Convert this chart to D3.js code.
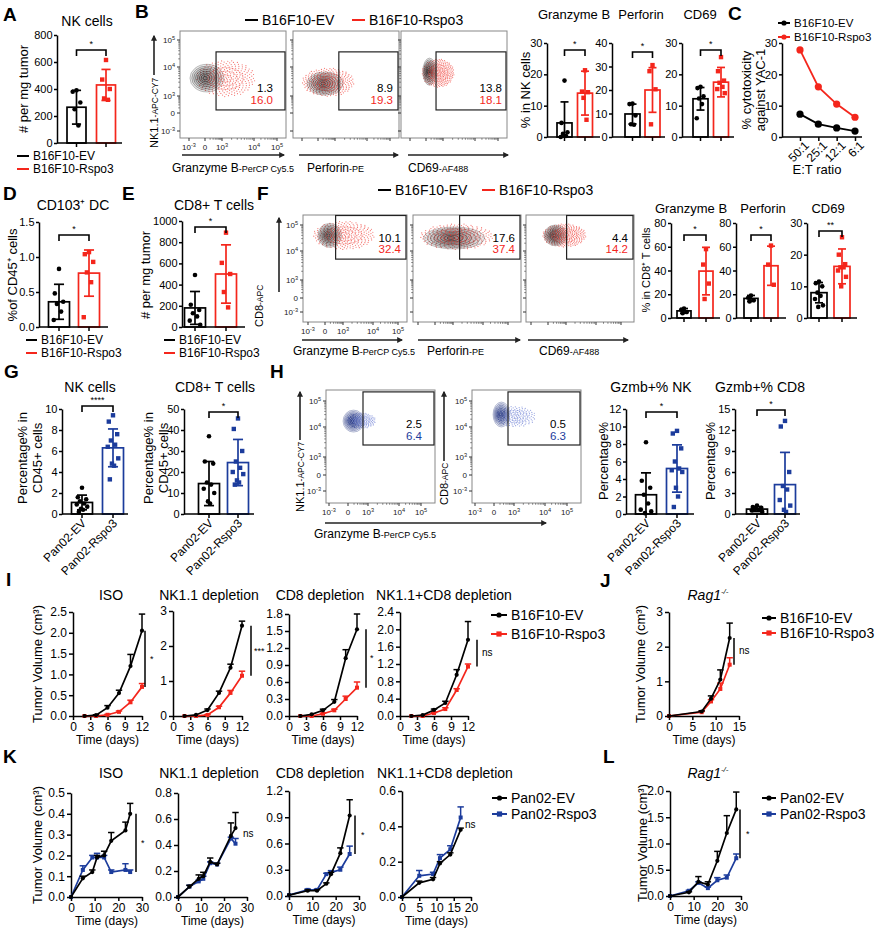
<!DOCTYPE html>
<html><head><meta charset="utf-8">
<script src="https://cdn.jsdelivr.net/npm/d3@7"></script>
<style>html,body{margin:0;padding:0;background:#fff}svg{display:block}</style>
</head><body>
<script>
// ================= DATA =================
const grpB16 = ["B16F10-EV", "B16F10-Rspo3"];
const grpPan = ["Pan02-EV", "Pan02-Rspo3"];

// A
const aMean = [265, 430], aSD = [125, 115];
const aDots = [[390, 380, 300, 250, 130], [615, 470, 400, 330, 320]];
// B bar charts (% in NK cells)
const bGzmbMean = [4.5, 14], bGzmbSD = [6.7, 7];
const bGzmbDots = [[18, 4.5, 1.5, 1, 0.3, 0], [21.3, 14.5, 14.3, 12.5, 5.5]];
const bPrfMean = [9.8, 20], bPrfSD = [4.2, 9.5];
const bPrfDots = [[14.2, 14, 9.2, 5.4, 5.2], [30.6, 28, 20.3, 5.4]];
const bCd69Mean = [12.2, 17.5], bCd69SD = [3.6, 4.7];
const bCd69Dots = [[16, 15.6, 13, 12.3, 10.5, 6], [25.5, 21, 18, 17.3, 16, 15.3, 14]];
// B flow gates
const bGateNums = [["1.3", "16.0"], ["8.9", "19.3"], ["13.8", "18.1"]];
const flowB_gray = [[0.06, 1.62, 1.0, 0.48], [0.28, 1.43, 0.97, 0.4], [0.2, 1.85, 0.4, 0.48]];
const flowB_red = [[0.75, 1.6, 1.3, 0.65], [0.3, 1.47, 1.3, 0.5], [0.55, 1.8, 0.8, 0.5]];
const flowB_gateX = [0.65, 1.12, 0.59];
// C
const etRatio = ["50:1", "25:1", "12:1", "6:1"];
const cytoEV = [7.3, 4.1, 2.9, 1.9];
const cytoRspo3 = [27.8, 16.0, 10.5, 6.3];
// D
const dMean = [0.36, 0.77], dSD = [0.25, 0.33];
const dDots = [[0.83, 0.48, 0.36, 0.33, 0.22, 0.1], [1.07, 1.04, 0.93, 0.78, 0.64, 0.14]];
// E
const eMean = [180, 500], eSD = [155, 275];
const eDots = [[490, 210, 160, 130, 100, 60, 20], [890, 605, 500, 330, 185]];
// F flow
const fGateNums = [["10.1", "32.4"], ["17.6", "37.4"], ["4.4", "14.2"]];
const flowF_gray = [[0.25, 2.6, 0.67, 0.46], [0.7, 2.5, 1.36, 0.42], [0.4, 2.6, 0.63, 0.4]];
const flowF_red = [[0.68, 2.6, 1.38, 0.55], [0.76, 2.55, 1.64, 0.5], [0.67, 2.6, 1.0, 0.45]];
const flowF_gateX = [0.59, 1.22, 1.02];
// F bars (% in CD8+ T cells)
const fGzmbMean = [6, 39.5], fGzmbSD = [2, 20];
const fGzmbDots = [[8, 7, 5, 4], [58, 45, 29, 16]];
const fPrfMean = [16.5, 44], fPrfSD = [2.5, 16.5];
const fPrfDots = [[19, 17, 15, 14], [61, 45, 28]];
const fCd69Mean = [8, 16.3], fCd69SD = [3.2, 5.5];
const fCd69Dots = [[11.5, 11, 10, 8, 7, 6, 4, 3.5], [25.5, 20, 17, 16, 16, 15, 13, 10]];
// G
const gNkMean = [1.1, 6.3], gNkSD = [0.7, 1.8];
const gNkDots = [[2.5, 1.6, 1.4, 1.2, 1.0, 0.9, 0.7, 0.5, 0.4, 0.2], [9.4, 8.8, 7.6, 7.0, 6.6, 6.4, 5.3, 4.8, 4.6, 3.3]];
const gCd8Mean = [14.5, 24.5], gCd8SD = [10.5, 11];
const gCd8Dots = [[37, 25, 24, 15, 14, 12, 10, 6, 5], [45.5, 40.5, 30, 25, 22, 20, 19, 16, 15, 14]];
// H flow
const hGateNums = [["2.5", "6.4"], ["0.5", "6.3"]];
const flowH_dark = [[0.27, 2.24, 0.53, 0.41], [0.37, 2.48, 0.42, 0.48]];
const flowH_light = [[0.6, 2.25, 0.65, 0.3], [0.9, 2.4, 0.8, 0.4]];
const flowH_gateX = [0.75, 0.7];
// H bars
const hNkMean = [2.2, 5.2], hNkSD = [2.5, 2.7];
const hNkDots = [[8.2, 3.8, 3.0, 2.2, 1.2, 0.5, 0.3, 0.1], [9.5, 9.2, 7.5, 6.0, 5.2, 5.0, 4.8, 3.0, 2.0, 0.8]];
const hCd8Mean = [0.7, 4.2], hCd8SD = [0.35, 4.6];
const hCd8Dots = [[1.2, 1.0, 0.9, 0.7, 0.6, 0.5, 0.3], [13.3, 12.5, 6.0, 4.0, 3.5, 2.0, 1.2, 0.6, 0.3]];
// I (B16F10 growth)
const iDays = [2, 4, 6, 8, 10, 12];
const iIsoEV = [0, 0.02, 0.2, 0.55, 1.2, 2.05], iIsoEVe = [0, 0.01, 0.05, 0.07, 0.28, 0.4];
const iIsoR = [0, 0, 0.03, 0.1, 0.33, 0.7], iIsoRe = [0, 0, 0.01, 0.02, 0.05, 0.08];
const iNkEV = [0, 0.03, 0.17, 0.66, 1.38, 2.58], iNkEVe = [0, 0, 0.03, 0.05, 0.1, 0.13];
const iNkR = [0, 0, 0.03, 0.25, 0.66, 1.15], iNkRe = [0, 0, 0.01, 0.03, 0.07, 0.13];
const iCd8EV = [0, 0.03, 0.1, 0.25, 1.02, 1.53], iCd8EVe = [0, 0, 0.02, 0.04, 0.15, 0.27];
const iCd8R = [0, 0, 0.04, 0.1, 0.3, 0.5], iCd8Re = [0, 0, 0.01, 0.02, 0.05, 0.1];
const iBothEV = [0, 0.02, 0.14, 0.3, 0.95, 1.76], iBothEVe = [0, 0, 0.02, 0.04, 0.12, 0.42];
const iBothR = [0, 0, 0.07, 0.16, 0.6, 1.14], iBothRe = [0, 0, 0.01, 0.03, 0.03, 0.06];
// J
const jDays = [0, 7, 9, 11, 13];
const jEV = [0, 0.13, 0.5, 1.05, 2.25], jEVe = [0, 0.02, 0.08, 0.28, 0.43];
const jR = [0, 0.11, 0.42, 0.78, 1.48], jRe = [0, 0.02, 0.05, 0.17, 0.2];
// K (Pan02 growth)
const kIsoDays = [0, 5, 9, 11, 14, 17, 23, 25];
const kIsoEV = [0, 0.09, 0.12, 0.19, 0.2, 0.27, 0.32, 0.4], kIsoEVe = [0, 0.01, 0.01, 0.01, 0.02, 0.04, 0.04, 0.05];
const kIsoR = [0, 0.13, 0.19, 0.19, 0.19, 0.12, 0.13, 0.12], kIsoRe = [0, 0.02, 0.01, 0.02, 0.01, 0.01, 0.03, 0.01];
const kNkDays = [0, 5, 9, 11, 14, 17, 23, 25];
const kNkEV = [0, 0.08, 0.14, 0.16, 0.27, 0.25, 0.47, 0.53], kNkEVe = [0, 0.01, 0.03, 0.03, 0.03, 0.01, 0.1, 0.12];
const kNkR = [0, 0.08, 0.12, 0.14, 0.26, 0.25, 0.45, 0.41], kNkRe = [0, 0.01, 0.01, 0.02, 0.01, 0.01, 0.01, 0.04];
const kCd8Days = [0, 8, 12, 16, 18, 22, 26];
const kCd8EV = [0.01, 0.06, 0.06, 0.14, 0.25, 0.49, 0.92], kCd8EVe = [0, 0.01, 0.01, 0.01, 0.02, 0.06, 0.18];
const kCd8R = [0.01, 0.07, 0.07, 0.25, 0.27, 0.3, 0.48], kCd8Re = [0, 0.01, 0.01, 0.01, 0.02, 0.03, 0.09];
const kBothDays = [0, 5, 9, 11, 14, 17];
const kBothEV = [0, 0.08, 0.1, 0.19, 0.24, 0.38], kBothEVe = [0, 0.01, 0.01, 0.01, 0.01, 0.01];
const kBothR = [0, 0.12, 0.13, 0.22, 0.27, 0.45], kBothRe = [0, 0.03, 0.01, 0.02, 0.02, 0.06];
// L
const lDays = [0, 8, 12, 16, 20, 24, 28];
const lEV = [0, 0.07, 0.27, 0.22, 0.67, 1.2, 1.65], lEVe = [0, 0.01, 0.1, 0.05, 0.18, 0.33, 0.33];
const lR = [0, 0.1, 0.25, 0.15, 0.3, 0.35, 0.72], lRe = [0, 0.01, 0.02, 0.02, 0.05, 0.05, 0.08];

// ================= DRAWING =================
const FONT = "'Liberation Sans', Arial, Helvetica, sans-serif";
const BLK = "#000", RED = "#f4261c", BLU = "#1c3c9c";
const svg = d3.select("body").append("svg").attr("width", 880).attr("height", 929)
  .style("font-family", FONT);
const defs = svg.append("defs");
defs.append("marker").attr("id", "arr").attr("viewBox", "0 0 10 10").attr("refX", 8).attr("refY", 5)
  .attr("markerWidth", 6).attr("markerHeight", 6).attr("markerUnits", "userSpaceOnUse").attr("orient", "auto")
  .append("path").attr("d", "M0,0 L10,5 L0,10 z").attr("fill", "#222");

function txt(x, y, s, o = {}) {
  const t = svg.append("text").attr("x", x).attr("y", y).attr("font-size", o.fs || 12)
    .attr("text-anchor", o.anchor || "start").attr("fill", o.fill || "#000");
  if (o.bold) t.attr("font-weight", "bold");
  if (o.italic) t.attr("font-style", "italic");
  if (o.rot) t.attr("transform", `rotate(${o.rot},${x},${y})`);
  t.text(s);
  return t;
}
function mixed(x, y, parts, o = {}) {
  const t = svg.append("text").attr("x", x).attr("y", y).attr("text-anchor", o.anchor || "start").attr("fill", o.fill || "#000");
  if (o.rot) t.attr("transform", `rotate(${o.rot},${x},${y})`);
  parts.forEach(p => {
    const ts = t.append("tspan").attr("font-size", p[1]).text(p[0]);
    if (p[2]) ts.attr("dy", p[2]);
    if (p[3]) ts.attr("font-style", p[3]);
  });
  return t;
}
function ylab(xc, yc, lines, fs) {
  lines.forEach((s, i) => {
    const x = xc[i] + fs * 0.36;
    txt(x, yc, s, { fs: fs, anchor: "middle", rot: -90 });
  });
}
function styleAxis(g, fs) {
  g.attr("font-family", FONT).attr("font-size", fs);
  g.select(".domain").attr("stroke", "#000").attr("stroke-width", 1.5);
  g.selectAll(".tick line").attr("stroke", "#000").attr("stroke-width", 1.5);
  g.selectAll(".tick text").attr("fill", "#000");
}
function legendLine(x0, x1, y, color, label, fs, marker) {
  svg.append("line").attr("x1", x0).attr("x2", x1).attr("y1", y).attr("y2", y).attr("stroke", color).attr("stroke-width", 2);
  if (marker === "c") svg.append("circle").attr("cx", (x0 + x1) / 2).attr("cy", y).attr("r", 2.6).attr("fill", color);
  if (marker === "s") svg.append("rect").attr("x", (x0 + x1) / 2 - 2.6).attr("y", y - 2.6).attr("width", 5.2).attr("height", 5.2).attr("fill", color);
  txt(x1 + 4, y + fs * 0.36, label, { fs: fs });
}

// ---------- bar chart ----------
function barChart(o) {
  const g = svg.append("g");
  const y = d3.scaleLinear().domain([0, o.max]).range([o.yBot, o.yTop]);
  const step = o.c[1] - o.c[0], p = 1 - o.bw / step;
  const x = d3.scaleBand().domain(o.groups).range([o.c[0] - step / 2, o.c[1] + step / 2]).paddingInner(p).paddingOuter(p / 2);
  const bw = x.bandwidth();
  o.groups.forEach((gr, i) => {
    const col = o.colors[i], cx = x(gr) + bw / 2;
    g.append("rect").attr("x", x(gr)).attr("y", y(o.means[i])).attr("width", bw)
      .attr("height", o.yBot - y(o.means[i])).attr("fill", "#fff").attr("stroke", col).attr("stroke-width", 1.7);
    const vals = o.dots[i].slice().sort((a, b) => b - a);
    const offs = [0, -4, 4, -2, 2, -5, 5, -1, 1, -3, 3];
    vals.forEach((v, j) => {
      const dx = offs[j % offs.length] * bw / 20;
      if (i === 1) g.append("rect").attr("x", cx + dx - 2.2).attr("y", y(v) - 2.2).attr("width", 4.4).attr("height", 4.4).attr("fill", col);
      else g.append("circle").attr("cx", cx + dx).attr("cy", y(v)).attr("r", 2.3).attr("fill", col);
    });
    const lo = Math.max(0, o.means[i] - o.sds[i]), hi = o.means[i] + o.sds[i];
    const cw = Math.max(4, bw * 0.24);
    g.append("line").attr("x1", cx).attr("x2", cx).attr("y1", y(lo)).attr("y2", y(hi)).attr("stroke", col).attr("stroke-width", 1.7);
    g.append("line").attr("x1", cx - cw).attr("x2", cx + cw).attr("y1", y(hi)).attr("y2", y(hi)).attr("stroke", col).attr("stroke-width", 1.7);
    if (lo > 0) g.append("line").attr("x1", cx - cw).attr("x2", cx + cw).attr("y1", y(lo)).attr("y2", y(lo)).attr("stroke", col).attr("stroke-width", 1.7);
  });
  const ya = g.append("g").attr("transform", `translate(${o.axisX},0)`)
    .call(d3.axisLeft(y).tickValues(o.ticks).tickFormat(o.fmt || d3.format("d")).tickSize(3).tickSizeOuter(0).tickPadding(1.5));
  styleAxis(ya, o.fs || 11);
  const xa = g.append("g").attr("transform", `translate(0,${o.yBot})`)
    .call(d3.axisBottom(x).tickSize(4).tickSizeOuter(0).tickFormat(""));
  styleAxis(xa, 11);
  xa.select(".domain").attr("d", `M${o.axisX},0H${o.xEnd}`);
  if (o.rotLabels) {
    o.groups.forEach(gr => {
      const cx = x(gr) + bw / 2;
      txt(cx + 5, o.yBot + 10, gr, { fs: 12, anchor: "end", rot: -45 });
    });
  }
  if (o.sig) {
    const c1 = x(o.groups[0]) + bw / 2, c2 = x(o.groups[1]) + bw / 2;
    g.append("path").attr("d", `M${c1},${o.sig[1] + 6}V${o.sig[1]}H${c2}V${o.sig[1] + 6}`)
      .attr("fill", "none").attr("stroke", "#000").attr("stroke-width", 1.6);
    txt((c1 + c2) / 2, o.sig[1] - 3, o.sig[0], { fs: 9, anchor: "middle" });
  }
  if (o.title) txt(o.title[1], o.title[2], o.title[0], { fs: o.tfs || 14, anchor: "middle" });
}

// ---------- line chart ----------
function lineChart(o) {
  const g = svg.append("g");
  const x = d3.scaleLinear().domain(o.xDom).range([o.x0, o.x1]);
  const y = d3.scaleLinear().domain(o.yDom).range([o.yBot, o.yTop]);
  const ya = g.append("g").attr("transform", `translate(${o.x0},0)`)
    .call(d3.axisLeft(y).tickValues(o.yTicks).tickFormat(o.yFmt).tickSize(4).tickSizeOuter(0).tickPadding(2));
  styleAxis(ya, 12);
  const xa = g.append("g").attr("transform", `translate(0,${o.yBot})`)
    .call(d3.axisBottom(x).tickValues(o.xTicks).tickFormat(d3.format("d")).tickSize(4).tickSizeOuter(0).tickPadding(2));
  styleAxis(xa, 12);
  txt((o.x0 + o.x1) / 2, o.yBot + 28, "Time (days)", { fs: 12, anchor: "middle" });
  o.series.forEach(s => {
    const pts = s.x.map((d, i) => [x(d), y(s.y[i])]);
    g.append("path").attr("d", d3.line()(pts)).attr("fill", "none").attr("stroke", s.color).attr("stroke-width", 1.7);
    s.x.forEach((d, i) => {
      if (s.e[i] > 0) {
        const yt = y(s.y[i] + s.e[i]);
        g.append("line").attr("x1", x(d)).attr("x2", x(d)).attr("y1", y(s.y[i])).attr("y2", yt).attr("stroke", s.color).attr("stroke-width", 1.5);
        g.append("line").attr("x1", x(d) - 3.2).attr("x2", x(d) + 3.2).attr("y1", yt).attr("y2", yt).attr("stroke", s.color).attr("stroke-width", 1.5);
      }
      if (s.shape === "s") g.append("rect").attr("x", x(d) - 2).attr("y", y(s.y[i]) - 2).attr("width", 4).attr("height", 4).attr("fill", s.color);
      else g.append("circle").attr("cx", x(d)).attr("cy", y(s.y[i])).attr("r", 2.1).attr("fill", s.color);
    });
  });
  if (o.sig) {
    const a = o.series[1], b = o.series[0];
    const y1 = y(a.y[a.y.length - 1]), y2 = y(b.y[b.y.length - 1]);
    if (o.sig.line) g.append("line").attr("x1", o.sig.x).attr("x2", o.sig.x).attr("y1", y1).attr("y2", y2).attr("stroke", "#000").attr("stroke-width", 1.5);
    txt(o.sig.tx, o.sig.ty != null ? o.sig.ty : (y1 + y2) / 2 + 3, o.sig.text, { fs: o.sig.text === "ns" ? 10 : 9 });
  }
  if (o.title) txt(o.title[1], o.title[2], o.title[0], { fs: 14, anchor: "middle" });
}

// ---------- flow plot ----------
let clipN = 0;
function supLabel(x, y, base, sup, fs, anchor) {
  const t = svg.append("text").attr("x", x).attr("y", y).attr("font-size", fs).attr("text-anchor", anchor).attr("fill", "#222");
  t.append("tspan").text(base);
  if (sup) t.append("tspan").attr("font-size", fs * 0.7).attr("dy", -fs * 0.4).text(sup);
}
function flowPlot(o) {
  const g = svg.append("g");
  const xs = d3.scaleLinear().domain([-1, 0, 1, 2, 3]).range(o.xt.map(v => o.x + v));
  const ys = d3.scaleLinear().domain([-1, 0, 1, 2, 3]).range(o.yt.map(v => o.y + v));
  const id = "fc" + (clipN++);
  defs.append("clipPath").attr("id", id).append("rect").attr("x", o.x).attr("y", o.y).attr("width", o.w).attr("height", o.h);
  const inner = g.append("g").attr("clip-path", `url(#${id})`);
  const ell = c => {
    const x0 = xs(c[0] - c[2]), x1 = xs(c[0] + c[2]), y0 = ys(c[1] + c[3]), y1 = ys(c[1] - c[3]);
    return { cx: (x0 + x1) / 2, cy: (y0 + y1) / 2, rx: (x1 - x0) / 2, ry: (y1 - y0) / 2 };
  };
  const S = ell(o.cloud);
  const n = o.nDots || 260;
  const dotLayer = (from, to) => {
    for (let i = from; i < to; i++) {
      const r = Math.pow((i + 0.5) / n, 0.55), a = i * 2.39996;
      inner.append("circle").attr("cx", S.cx + r * Math.cos(a) * S.rx).attr("cy", S.cy + r * Math.sin(a) * S.ry)
        .attr("r", 0.6).attr("fill", o.cloudColor).attr("fill-opacity", 0.65);
    }
  };
  dotLayer(Math.floor(n * 0.35), n);
  const E = ell(o.main);
  const rings = 8;
  for (let k = rings; k >= 1; k--) {
    const f = k / rings;
    inner.append("ellipse").attr("cx", E.cx - (1 - f) * E.rx * 0.12).attr("cy", E.cy).attr("rx", E.rx * f).attr("ry", E.ry * f)
      .attr("fill", o.mainColor).attr("fill-opacity", 0.09)
      .attr("stroke", o.mainColor).attr("stroke-opacity", 0.35 + 0.55 * (1 - f)).attr("stroke-width", 0.8);
  }
  dotLayer(0, Math.floor(n * 0.35));
  for (let k = 1; k <= 3; k++) {
    const f = k / 4;
    inner.append("ellipse").attr("cx", S.cx).attr("cy", S.cy).attr("rx", S.rx * f * 0.8).attr("ry", S.ry * f * 0.8)
      .attr("fill", "none").attr("stroke", o.cloudColor).attr("stroke-opacity", 0.45).attr("stroke-width", 0.6);
  }
  g.append("rect").attr("x", o.x).attr("y", o.y).attr("width", o.w).attr("height", o.h)
    .attr("fill", "none").attr("stroke", "#888").attr("stroke-width", 1);
  [-1, 0, 1, 2, 3].forEach(d => {
    g.append("line").attr("x1", o.x - 3).attr("x2", o.x).attr("y1", ys(d)).attr("y2", ys(d)).attr("stroke", "#333").attr("stroke-width", 1);
    g.append("line").attr("x1", xs(d)).attr("x2", xs(d)).attr("y1", o.y + o.h).attr("y2", o.y + o.h + 3).attr("stroke", "#333").attr("stroke-width", 1);
  });
  [0, 1, 2].forEach(d => {
    d3.range(2, 10).forEach(k => {
      const v = d + Math.log10(k);
      g.append("line").attr("x1", o.x - 1.8).attr("x2", o.x).attr("y1", ys(v)).attr("y2", ys(v)).attr("stroke", "#555").attr("stroke-width", 0.7);
      g.append("line").attr("x1", xs(v)).attr("x2", xs(v)).attr("y1", o.y + o.h).attr("y2", o.y + o.h + 1.8).attr("stroke", "#555").attr("stroke-width", 0.7);
    });
  });
  const lab = [[-1, "10", "-3"], [0, "0", ""], [1, "10", "3"], [2, "10", "4"], [3, "10", "5"]];
  if (o.yLabels) lab.forEach(l => supLabel(o.x - 5, ys(l[0]) + 3, l[1], l[2], 8, "end"));
  if (o.xLabels) lab.forEach(l => supLabel(xs(l[0]), o.y + o.h + 12, l[1], l[2], 8, "middle"));
  const gx0 = xs(o.gate[0]), gyB = ys(o.gate[1]), gyT = Math.max(o.y + 0.5, ys(o.gate[2])), gxR = o.x + o.w - 1;
  g.append("rect").attr("x", gx0).attr("y", gyT).attr("width", gxR - gx0).attr("height", gyB - gyT)
    .attr("fill", "none").attr("stroke", "#222").attr("stroke-width", 1.2);
  txt(o.numX, o.numY[0], o.nums[0], { fs: 11.5, anchor: "end" });
  txt(o.numX, o.numY[1], o.nums[1], { fs: 11.5, anchor: "end", fill: o.numColor });
}
function arrow(x1, y1, x2, y2) {
  svg.append("line").attr("x1", x1).attr("y1", y1).attr("x2", x2).attr("y2", y2)
    .attr("stroke", "#222").attr("stroke-width", 1.6).attr("marker-end", "url(#arr)");
}

// ================= PANEL LABELS =================
[["A", 3, 21], ["B", 135, 18], ["C", 728, 20], ["D", 3, 200], ["E", 122, 200], ["F", 257, 200],
 ["G", 4, 378], ["H", 270, 378], ["I", 6, 586], ["J", 600, 587], ["K", 3, 763], ["L", 603, 763]]
  .forEach(l => txt(l[1], l[2], l[0], { fs: 19, bold: true }));

// ================= A =================
barChart({ groups: grpB16, means: aMean, sds: aSD, dots: aDots, colors: [BLK, RED], axisX: 57, xEnd: 122,
  yTop: 35, yBot: 143, max: 800, ticks: [0, 200, 400, 600, 800], c: [76.5, 106], bw: 19,
  sig: ["*", 50], title: ["NK cells", 87, 26] });
ylab([23], 89, ["# per mg tumor"], 13);
legendLine(17, 29, 156, BLK, "B16F10-EV", 12);
legendLine(17, 29, 169, RED, "B16F10-Rspo3", 12);

// ================= B =================
legendLine(245, 258, 20, BLK, "B16F10-EV", 14);
legendLine(352, 365, 20, RED, "B16F10-Rspo3", 14);
const bX = [180, 293, 401];
bX.forEach((x0, i) => {
  flowPlot({ x: x0, y: 31, w: 106, h: 107, xt: [9, 25, 42, 74, 97], yt: [100, 82, 65, 36, 9],
    main: flowB_gray[i], mainColor: "#222", cloud: flowB_red[i], cloudColor: "#ee2a22",
    gate: [flowB_gateX[i], 0.18, 2.56], nums: bGateNums[i], numX: x0 + 106 - [13, 6, 5][i], numY: [92, 104], numColor: RED,
    yLabels: i === 0, xLabels: i === 0 });
});
arrow(154, 75, 154, 36);
mixed(158, 148, [["NK1.1", 11], ["-APC-CY7", 8.5]], { rot: -90 });
arrow(182, 155, 284, 155); arrow(299, 155, 398, 155); arrow(408, 155, 508, 155);
mixed(172, 172, [["Granzyme B", 12], ["-PerCP Cy5.5", 9]]);
mixed(307, 172, [["Perforin", 12], ["-PE", 9]]);
mixed(408, 172, [["CD69", 12], ["-AF488", 9]]);

barChart({ groups: grpB16, means: bGzmbMean, sds: bGzmbSD, dots: bGzmbDots, colors: [BLK, RED], axisX: 547, xEnd: 600,
  yTop: 43, yBot: 137, max: 30, ticks: [0, 10, 20, 30], c: [564.5, 585], bw: 15, sig: ["*", 50], title: ["Granzyme B", 574, 19], tfs: 13 });
barChart({ groups: grpB16, means: bPrfMean, sds: bPrfSD, dots: bPrfDots, colors: [BLK, RED], axisX: 612, xEnd: 665,
  yTop: 43, yBot: 137, max: 40, ticks: [0, 10, 20, 30, 40], c: [632.5, 652.5], bw: 15, sig: ["*", 52], title: ["Perforin", 641, 19], tfs: 13 });
barChart({ groups: grpB16, means: bCd69Mean, sds: bCd69SD, dots: bCd69Dots, colors: [BLK, RED], axisX: 682, xEnd: 734,
  yTop: 43, yBot: 137, max: 30, ticks: [0, 10, 20, 30], c: [700.5, 721], bw: 15, sig: ["*", 50], title: ["CD69", 700, 19], tfs: 13 });
ylab([525], 90, ["% in NK cells"], 13);

// ================= C =================
{
  const x = d3.scalePoint().domain(etRatio).range([800, 855]);
  const y = d3.scaleLinear().domain([0, 30]).range([137, 43]);
  const ya = svg.append("g").attr("transform", "translate(782,0)")
    .call(d3.axisLeft(y).tickValues([0, 10, 20, 30]).tickSize(3).tickSizeOuter(0).tickPadding(1.5));
  styleAxis(ya, 11.5);
  const xa = svg.append("g").attr("transform", "translate(0,137)")
    .call(d3.axisBottom(x).tickSize(4).tickSizeOuter(0).tickPadding(3));
  styleAxis(xa, 12);
  xa.select(".domain").attr("d", "M782,0H862");
  xa.selectAll(".tick text").attr("text-anchor", "end").attr("transform", "rotate(-45)").attr("dy", "0.5em");
  [[cytoEV, BLK], [cytoRspo3, RED]].forEach(([vals, col]) => {
    svg.append("path").attr("d", d3.line()(etRatio.map((r, i) => [x(r), y(vals[i])])))
      .attr("fill", "none").attr("stroke", col).attr("stroke-width", 1.8);
    etRatio.forEach((r, i) => svg.append("circle").attr("cx", x(r)).attr("cy", y(vals[i])).attr("r", 3.6).attr("fill", col));
  });
  txt(817, 174, "E:T ratio", { fs: 13, anchor: "middle" });
  ylab([746, 760], 90, ["% cytotoxicity", "against YAC-1"], 13);
  legendLine(778, 790, 23, BLK, "B16F10-EV", 11.5, "c");
  legendLine(778, 790, 37, RED, "B16F10-Rspo3", 11.5, "c");
}

// ================= D =================
barChart({ groups: grpB16, means: dMean, sds: dSD, dots: dDots, colors: [BLK, RED], axisX: 39, xEnd: 108,
  yTop: 222, yBot: 327, max: 1.5, ticks: [0, 0.5, 1.0, 1.5], fmt: d3.format(".1f"), c: [59, 89], bw: 21,
  sig: ["*", 235], title: ["CD103\u207A DC", 73, 210] });
ylab([12], 275, ["%of CD45\u207A cells"], 13);
legendLine(26, 37, 340, BLK, "B16F10-EV", 12);
legendLine(26, 37, 353, RED, "B16F10-Rspo3", 12);

// ================= E =================
barChart({ groups: grpB16, means: eMean, sds: eSD, dots: eDots, colors: [BLK, RED], axisX: 182, xEnd: 245,
  yTop: 221, yBot: 327, max: 1000, ticks: [0, 200, 400, 600, 800, 1000], c: [195, 226], bw: 21,
  sig: ["*", 227], title: ["CD8+ T cells", 214, 210] });
ylab([145], 275, ["# per mg tumor"], 13);
legendLine(164, 175, 340, BLK, "B16F10-EV", 12);
legendLine(164, 175, 353, RED, "B16F10-Rspo3", 12);

// ================= F =================
legendLine(378, 391, 190, BLK, "B16F10-EV", 14);
legendLine(482, 495, 190, RED, "B16F10-Rspo3", 14);
const fX = [303, 413, 526], fW = [104, 108, 108];
fX.forEach((x0, i) => {
  flowPlot({ x: x0, y: 215, w: fW[i], h: 107, xt: [5, 22, 40, 70, 95], yt: [97, 83, 65, 36, 10],
    main: flowF_gray[i], mainColor: "#222", cloud: flowF_red[i], cloudColor: "#ee2a22",
    gate: [flowF_gateX[i], 1.72, 3.4], nums: fGateNums[i], numX: x0 + fW[i] - 6, numY: [242, 253], numColor: RED,
    yLabels: i === 0, xLabels: i === 0 });
});
arrow(279, 292, 279, 218);
mixed(263, 327, [["CD8", 11], ["-APC", 8.5]], { rot: -90 });
arrow(302, 340, 402, 340); arrow(418, 340, 520, 340); arrow(528, 340, 628, 340);
mixed(293, 355, [["Granzyme B", 12], ["-PerCP Cy5.5", 9]]);
mixed(427, 355, [["Perforin", 12], ["-PE", 9]]);
mixed(539, 355, [["CD69", 12], ["-AF488", 9]]);

barChart({ groups: grpB16, means: fGzmbMean, sds: fGzmbSD, dots: fGzmbDots, colors: [BLK, RED], axisX: 671, xEnd: 720,
  yTop: 223, yBot: 318, max: 80, ticks: [0, 20, 40, 60, 80], c: [684, 706], bw: 14, sig: ["*", 235], title: ["Granzyme B", 691, 213], tfs: 13 });
barChart({ groups: grpB16, means: fPrfMean, sds: fPrfSD, dots: fPrfDots, colors: [BLK, RED], axisX: 736, xEnd: 786,
  yTop: 223, yBot: 318, max: 80, ticks: [0, 20, 40, 60, 80], c: [751, 771], bw: 14, sig: ["*", 235], title: ["Perforin", 763, 213], tfs: 13 });
barChart({ groups: grpB16, means: fCd69Mean, sds: fCd69SD, dots: fCd69Dots, colors: [BLK, RED], axisX: 807, xEnd: 857,
  yTop: 223, yBot: 318, max: 30, ticks: [0, 10, 20, 30], c: [819, 842], bw: 16, sig: ["**", 231], title: ["CD69", 828, 213], tfs: 13 });
ylab([646], 270, ["% in CD8\u207A T cells"], 11);

// ================= G =================
barChart({ groups: grpPan, means: gNkMean, sds: gNkSD, dots: gNkDots, colors: [BLK, BLU], axisX: 62, xEnd: 128,
  yTop: 409, yBot: 514, max: 10, ticks: [0, 2, 4, 6, 8, 10], c: [82, 113], bw: 21, sig: ["****", 406],
  title: ["NK cells", 90, 392], rotLabels: true });
ylab([22, 37], 458, ["Percentage% in", "CD45+ cells"], 13);
barChart({ groups: grpPan, means: gCd8Mean, sds: gCd8SD, dots: gCd8Dots, colors: [BLK, BLU], axisX: 184, xEnd: 254,
  yTop: 409, yBot: 514, max: 50, ticks: [0, 10, 20, 30, 40, 50], c: [209, 238], bw: 21, sig: ["*", 412],
  title: ["CD8+ T cells", 215, 392], rotLabels: true });
ylab([148, 163], 458, ["Percentage% in", "CD45+ cells"], 13);

// ================= H =================
const hX = [326, 472];
hX.forEach((x0, i) => {
  flowPlot({ x: x0, y: 390, w: 109, h: 113, xt: [3, 22, 42, 73, 95], yt: [101, 85, 67, 37, 11],
    main: flowH_dark[i], mainColor: "#1a2a7a", cloud: flowH_light[i], cloudColor: "#5a6fd0", nDots: 140,
    gate: [flowH_gateX[i], 1.4, 3.35], nums: hGateNums[i], numX: x0 + 109 - [13, 15][i], numY: [428, 440], numColor: BLU,
    yLabels: true, xLabels: true });
});
arrow(300, 440, 300, 392);
mixed(304, 512, [["NK1.1", 11], ["-APC-CY7", 8.5]], { rot: -90 });
arrow(444, 461, 444, 392);
mixed(448, 505, [["CD8", 11], ["-APC", 8.5]], { rot: -90 });
arrow(325, 523, 546, 523);
mixed(314, 538, [["Granzyme B", 12], ["-PerCP Cy5.5", 9]]);

barChart({ groups: grpPan, means: hNkMean, sds: hNkSD, dots: hNkDots, colors: [BLK, BLU], axisX: 626, xEnd: 694,
  yTop: 409, yBot: 514, max: 12, ticks: [0, 2, 4, 6, 8, 10, 12], c: [646, 677], bw: 21, sig: ["*", 412],
  title: ["Gzmb+% NK", 651, 392], rotLabels: true });
ylab([603], 461, ["Percentage%"], 13);
barChart({ groups: grpPan, means: hCd8Mean, sds: hCd8SD, dots: hCd8Dots, colors: [BLK, BLU], axisX: 735, xEnd: 800,
  yTop: 409, yBot: 514, max: 15, ticks: [0, 3, 6, 9, 12, 15], c: [757, 785], bw: 21, sig: ["*", 410],
  title: ["Gzmb+% CD8", 760, 392], rotLabels: true });
ylab([710], 461, ["Percentage%"], 13);

// ================= I =================
const f1 = d3.format(".1f"), fd = d3.format("d");
const ser = (x, ev, eve, r, re, col) => [
  { x: x, y: r, e: re, color: col, shape: "s" },
  { x: x, y: ev, e: eve, color: BLK, shape: "c" }];
lineChart({ x0: 73, x1: 142, xDom: [0, 12], xTicks: [0, 3, 6, 9, 12], yTop: 612, yBot: 716, yDom: [0, 2.5],
  yTicks: [0, 0.5, 1, 1.5, 2, 2.5], yFmt: f1, series: ser(iDays, iIsoEV, iIsoEVe, iIsoR, iIsoRe, RED),
  sig: { line: true, x: 145, tx: 150, text: "*" }, title: ["ISO", 111, 600] });
lineChart({ x0: 173, x1: 242, xDom: [0, 12], xTicks: [0, 3, 6, 9, 12], yTop: 611, yBot: 716, yDom: [0, 3],
  yTicks: [0, 1, 2, 3], yFmt: fd, series: ser(iDays, iNkEV, iNkEVe, iNkR, iNkRe, RED),
  sig: { line: true, x: 251, tx: 254, text: "***" }, title: ["NK1.1 depletion", 209, 600] });
lineChart({ x0: 289, x1: 357, xDom: [0, 12], xTicks: [0, 3, 6, 9, 12], yTop: 614, yBot: 716, yDom: [0, 1.8],
  yTicks: [0, 0.3, 0.6, 0.9, 1.2, 1.5, 1.8], yFmt: f1, series: ser(iDays, iCd8EV, iCd8EVe, iCd8R, iCd8Re, RED),
  sig: { line: true, x: 366, tx: 370, text: "*" }, title: ["CD8 depletion", 320, 600] });
lineChart({ x0: 400, x1: 468, xDom: [0, 12], xTicks: [0, 3, 6, 9, 12], yTop: 612, yBot: 716, yDom: [0, 2.4],
  yTicks: [0, 0.4, 0.8, 1.2, 1.6, 2.0, 2.4], yFmt: f1, series: ser(iDays, iBothEV, iBothEVe, iBothR, iBothRe, RED),
  sig: { line: true, x: 477, tx: 482, text: "ns" }, title: ["NK1.1+CD8 depletion", 444, 600] });
ylab([37], 664, ["Tumor Volume (cm\u00B3)"], 13);
legendLine(491, 507, 615, BLK, "B16F10-EV", 14, "c");
legendLine(491, 507, 634, RED, "B16F10-Rspo3", 14, "s");

// ================= J =================
lineChart({ x0: 669, x1: 739, xDom: [0, 15], xTicks: [0, 5, 10, 15], yTop: 612, yBot: 716, yDom: [0, 3],
  yTicks: [0, 1, 2, 3], yFmt: fd, series: ser(jDays, jEV, jEVe, jR, jRe, RED),
  sig: { line: true, x: 734, tx: 739, text: "ns" } });
mixed(708, 600, [["Rag1", 14, 0, "italic"], ["-/-", 8, -6, "italic"]], { anchor: "middle" });
ylab([640], 664, ["Tumor Volume (cm\u00B3)"], 13);
legendLine(762, 776, 618, BLK, "B16F10-EV", 14, "c");
legendLine(762, 776, 633, RED, "B16F10-Rspo3", 14, "s");

// ================= K =================
lineChart({ x0: 71, x1: 142, xDom: [0, 30], xTicks: [0, 10, 20, 30], yTop: 793, yBot: 897, yDom: [0, 0.5],
  yTicks: [0, 0.1, 0.2, 0.3, 0.4, 0.5], yFmt: f1, series: ser(kIsoDays, kIsoEV, kIsoEVe, kIsoR, kIsoRe, BLU),
  sig: { line: true, x: 136, tx: 141, text: "*" }, title: ["ISO", 111, 778] });
lineChart({ x0: 178, x1: 247, xDom: [0, 30], xTicks: [0, 10, 20, 30], yTop: 793, yBot: 897, yDom: [0, 0.8],
  yTicks: [0, 0.2, 0.4, 0.6, 0.8], yFmt: f1, series: ser(kNkDays, kNkEV, kNkEVe, kNkR, kNkRe, BLU),
  sig: { line: false, x: 0, tx: 243, ty: 837, text: "ns" }, title: ["NK1.1 depletion", 209, 778] });
lineChart({ x0: 289, x1: 359, xDom: [0, 30], xTicks: [0, 10, 20, 30], yTop: 791, yBot: 896, yDom: [0, 1.2],
  yTicks: [0, 0.3, 0.6, 0.9, 1.2], yFmt: f1, series: ser(kCd8Days, kCd8EV, kCd8EVe, kCd8R, kCd8Re, BLU),
  sig: { line: true, x: 355, tx: 361, text: "*" }, title: ["CD8 depletion", 320, 778] });
lineChart({ x0: 402, x1: 471, xDom: [0, 20], xTicks: [0, 5, 10, 15, 20], yTop: 791, yBot: 897, yDom: [0, 0.6],
  yTicks: [0, 0.2, 0.4, 0.6], yFmt: f1, series: ser(kBothDays, kBothEV, kBothEVe, kBothR, kBothRe, BLU),
  sig: { line: false, x: 0, tx: 465, ty: 828, text: "ns" }, title: ["NK1.1+CD8 depletion", 445, 778] });
ylab([37], 845, ["Tumor Volume (cm\u00B3)"], 13);
legendLine(492, 507, 798, BLK, "Pan02-EV", 14, "c");
legendLine(492, 507, 814, BLU, "Pan02-Rspo3", 14, "s");

// ================= L =================
lineChart({ x0: 670, x1: 741, xDom: [0, 30], xTicks: [0, 10, 20, 30], yTop: 791, yBot: 896, yDom: [0, 2.0],
  yTicks: [0, 0.5, 1.0, 1.5, 2.0], yFmt: f1, series: ser(lDays, lEV, lEVe, lR, lRe, BLU),
  sig: { line: true, x: 740, tx: 746, text: "*" } });
mixed(708, 778, [["Rag1", 14, 0, "italic"], ["-/-", 8, -6, "italic"]], { anchor: "middle" });
ylab([642], 843, ["Tumor Volume (cm\u00B3)"], 13);
legendLine(762, 776, 798, BLK, "Pan02-EV", 14, "c");
legendLine(762, 776, 814, BLU, "Pan02-Rspo3", 14, "s");
</script>
</body></html>
